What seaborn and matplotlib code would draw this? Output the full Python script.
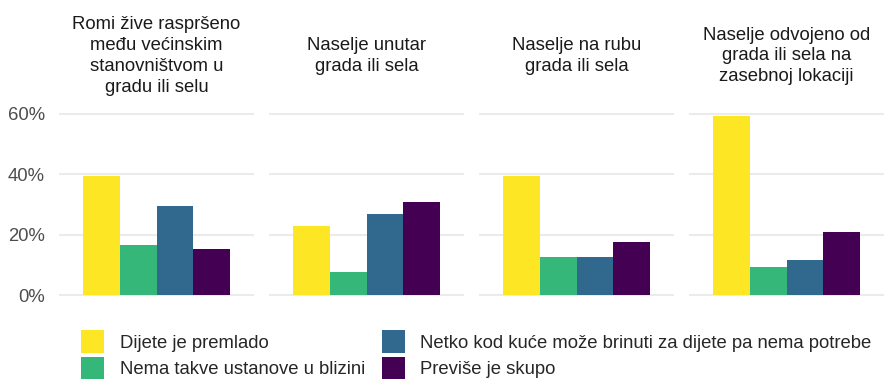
import matplotlib
matplotlib.use("Agg")
import matplotlib.pyplot as plt
import matplotlib.patches as mpatches
import seaborn as sns
import pandas as pd

# Panel (settlement type) titles
facets = [
    "Romi žive raspršeno\nmeđu većinskim\nstanovništvom u\ngradu ili selu",
    "Naselje unutar\ngrada ili sela",
    "Naselje na rubu\ngrada ili sela",
    "Naselje odvojeno od\ngrada ili sela na\nzasebnoj lokaciji",
]

# Reasons for not enrolling a child
reasons = [
    "Dijete je premlado",
    "Nema takve ustanove u blizini",
    "Netko kod kuće može brinuti za dijete pa nema potrebe",
    "Previše je skupo",
]

# Shares (%) per panel, in the order of `reasons`
share_rasprseno = [39.5, 16.6, 29.5, 15.2]
share_unutar = [22.9, 7.6, 26.8, 30.8]
share_rub = [39.4, 12.6, 12.6, 17.6]
share_odvojeno = [59.3, 9.3, 11.6, 20.9]

colors = ["#FDE725", "#35B779", "#31688E", "#440154"]
yticks = [0, 20, 40, 60]
ytick_labels = ["0%", "20%", "40%", "60%"]

rows = []
for facet, vals in zip(facets, [share_rasprseno, share_unutar, share_rub, share_odvojeno]):
    for reason, v in zip(reasons, vals):
        rows.append({"facet": facet, "reason": reason, "share": v, "grp": ""})
df = pd.DataFrame(rows)

sns.set_theme(style="white")
plt.rcParams["font.family"] = ["Liberation Sans", "DejaVu Sans"]

W, H = 884, 380
fig = plt.figure(figsize=(W / 100, H / 100), dpi=100)

panel_left = [59, 269, 479, 689]
panel_w = 195
top_px, bottom_px = 107, 304
palette = dict(zip(reasons, colors))

for i, facet in enumerate(facets):
    ax = fig.add_axes([panel_left[i] / W, (H - bottom_px) / H,
                       panel_w / W, (bottom_px - top_px) / H])
    sub = df[df["facet"] == facet]
    sns.barplot(data=sub, x="grp", y="share", hue="reason", hue_order=reasons,
                palette=palette, width=0.9, saturation=1, linewidth=0,
                legend=False, errorbar=None, ax=ax)
    ax.set_xlim(-0.6, 0.6)
    ax.set_ylim(-2.97, 62.27)
    ax.set_yticks(yticks)
    ax.set_axisbelow(True)
    ax.grid(axis="y", color="#EBEBEB", linewidth=1.5)
    ax.grid(axis="x", visible=False)
    for s in ax.spines.values():
        s.set_visible(False)
    ax.set_xlabel("")
    ax.set_ylabel("")
    ax.set_xticks([])
    if i == 0:
        ax.set_yticklabels(ytick_labels)
        ax.tick_params(axis="y", length=0, pad=10, labelsize=13.3, labelcolor="#4D4D4D")
    else:
        ax.set_yticklabels([])
        ax.tick_params(axis="y", length=0)
    fig.text((panel_left[i] + panel_w / 2) / W, (H - 56) / H, facet,
             ha="center", va="center", multialignment="center",
             fontsize=13.3, color="#1A1A1A", linespacing=1.3)

handles = [mpatches.Patch(facecolor=c, edgecolor="none", label=r)
           for c, r in zip(colors, reasons)]
fig.legend(handles=handles, ncol=2, loc="upper left",
           bbox_to_anchor=(81 / W, (H - 330) / H), frameon=False,
           fontsize=13.3, handlelength=1.25, handleheight=1.53,
           handletextpad=0.85, columnspacing=0.9, labelspacing=0.2,
           borderpad=0, borderaxespad=0)

fig.savefig("out.png", dpi=100)
